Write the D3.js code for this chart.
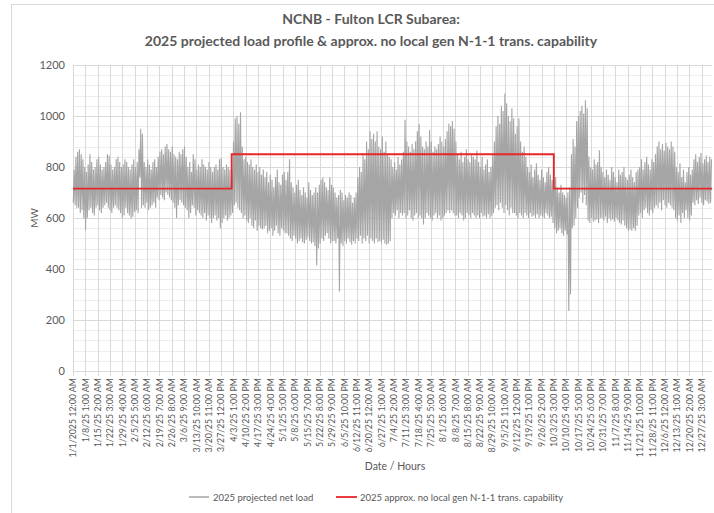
<!DOCTYPE html>
<html>
<head>
<meta charset="utf-8">
<script src="https://cdn.jsdelivr.net/npm/d3@7"></script>
<style>
  body { margin: 0; background: #fff; }
  text { font-family: Lato, "Liberation Sans", sans-serif; fill: #595959; }
</style>
</head>
<body>
<svg id="chart"></svg>
<script>
// daily high / low of the 2025 projected net load (MW), Jan 1 .. Dec 31
var loadHigh = [
  790,840,860,870,850,830,800,780,810,850,820,790,800,830,840,810,790,800,820,850,845,810,790,800,830,840,820,800,810,830,820,
  800,790,810,830,800,820, 870,950,930, 820,800,830,810,790,820,830,800,
  840,860,870,850,880,890,870,860,880,850,840, 830,860,850,
  870,880,840,800,820,780,850,830,790,810,800,
  830,810,800,790,820,800,780,800,810,790,830,835,800,790,810,800,790,
  790,900,990,1000,970,1015, 880,830,840,820,810,830,800,790,810,780,800,770,790,
  760,780,740,770,750,720,760,790,740,730,770,780,750,
  780,830,740,720,700,730,750,710,690,720,700,680,740,710,690,700,720, 700,
  730,750,760,740,720,710,760,730,720,
  700,680,690,710,700,670,690,680,700,690,660,680,700,
  760,800,780,850,830,900,870,940,910,
  930,900,940,880,870,920,860,900,850,840,830,
  800,820,790,840,810,830,860,
  985,900,880,860,890,870,900,940,970,920,880,870,900,880,945,900,860,880,870,890,920,900,880,910,940,970,960,
  980,950,900, 850,830,860,820,840,870,830,820,850,840,830,865,
  820,800,840,790,810,830,780,800,850,
  900,960,1000,970,1040,1020,1088,1050,1000,980,1030,990,
  930,960,990,900,860,880,840,
  800,780,810,760,790,815,770,750,790,760,740,780,800,770,750,
  850,760,720,700,730, 700,690,680,700, 720,850, 910,880,980,
  1000,1020,1040,1010,1062,1030, 840,800,790,830,810,820,866,800,
  780,760,790,770,750,800,780,760,740,790,770,780,800,760,750,770,790,760,740,780,790,
  800,830,790,820,840,810,790,830,820,850,
  880,900,870,890,865,895,880,870,900,880,860,
  800,780,815,760,790,740,780,800,770,790,
  830,850,820,840,855,815,830,845,820,840,830
];
var loadLow = [
  660,650,640,640,620,630,600,553,600,630,640,620,610,640,650,630,620,640,650,660,640,630,620,640,650,640,630,620,600,610,640,
  620,610,598,605,625,630, 620,760,640, 650,640,660,630,640,650,660,640,
  680,670,690,680,670,700,690,680,670,660,640, 600,650,670,
  660,650,640,630,600,620,650,640,610,630,620,
  610,600,620,590,610,600,580,600,610,590,600,560,580,600,610,590,600,
  610,620,650,660,640,630, 620,600,610,590,580,600,570,560,590,550,570,560,555,
  560,570,540,550,560,530,550,570,540,530,560,550,540,
  540,530,520,510,530,520,500,510,520,505,500,515,525,510,500,505,490, 415,
  480,500,520,510,530,540,520,500,510,
  510,500,520,312,500,490,510,500,520,505,495,510,500,
  520,510,530,500,520,510,530,500,520,
  510,500,520,505,510,500,515,500,495,500,510,
  600,620,610,630,600,620,610,
  620,600,610,630,600,590,610,620,600,610,600,575,600,620,610,600,590,610,620,600,610,590,600,610,620,630,620,
  630,620,610, 610,600,620,610,590,600,620,610,600,620,610,600,
  610,600,620,605,610,600,615,600,610,
  620,640,650,630,660,640,620,650,630,610,640,620,
  620,610,600,620,610,600,620,
  610,600,620,605,610,600,615,600,610,605,600,620,610,600,605,
  580,560,540,550,560, 540,530,550,535, 235,300, 560,570,600,
  640,680,700,660,690,650, 590,580,600,585,590,595,580,600,
  600,590,605,580,600,590,595,585,600,590,580,575,590,570,560,550,555,550,560,550,570,
  610,620,600,630,640,620,610,630,620,640,
  650,640,660,630,670,650,640,660,650,640,630,
  600,590,610,580,620,600,630,600,590,610,
  660,650,670,655,680,660,650,670,665,655,660
];

// N-1-1 transmission capability steps (hour of year where each level starts)
var capStartHour = [0, 2175, 6590];
var capValue = [715, 850, 715];

var tickLabels = [
  "1/1/2025 12:00 AM","1/8/25 1:00 AM","1/15/25 2:00 AM","1/22/25 3:00 AM","1/29/25 4:00 AM",
  "2/5/25 5:00 AM","2/12/25 6:00 AM","2/19/25 7:00 AM","2/26/25 8:00 AM","3/6/25 9:00 AM",
  "3/13/25 10:00 AM","3/20/25 11:00 AM","3/27/25 12:00 PM","4/3/25 1:00 PM","4/10/25 2:00 PM",
  "4/17/25 3:00 PM","4/24/25 4:00 PM","5/1/25 5:00 PM","5/8/25 6:00 PM","5/15/25 7:00 PM",
  "5/22/25 8:00 PM","5/29/25 9:00 PM","6/5/25 10:00 PM","6/12/25 11:00 PM","6/20/25 12:00 AM",
  "6/27/25 1:00 AM","7/4/25 2:00 AM","7/11/25 3:00 AM","7/18/25 4:00 AM","7/25/25 5:00 AM",
  "8/1/25 6:00 AM","8/8/25 7:00 AM","8/15/25 8:00 AM","8/22/25 9:00 AM","8/29/25 10:00 AM",
  "9/5/25 11:00 AM","9/12/25 12:00 PM","9/19/25 1:00 PM","9/26/25 2:00 PM","10/3/25 3:00 PM",
  "10/10/25 4:00 PM","10/17/25 5:00 PM","10/24/25 6:00 PM","10/31/25 7:00 PM","11/7/25 8:00 PM",
  "11/14/25 9:00 PM","11/21/25 10:00 PM","11/28/25 11:00 PM","12/6/25 12:00 AM","12/13/25 1:00 AM",
  "12/20/25 2:00 AM","12/27/25 3:00 AM"
];
var labelStep = 169;
var hoursInYear = 8760;
var yTicks = [0, 200, 400, 600, 800, 1000, 1200];

var W = 714, H = 513;
var margin = { top: 65, right: 2, bottom: 142, left: 73 };

var svg = d3.select("#chart").attr("width", W).attr("height", H);

// chart area border (only top/left visible in the frame)
svg.append("rect")
  .attr("x", 11.5).attr("y", 4.5)
  .attr("width", 760).attr("height", 560)
  .attr("fill", "none").attr("stroke", "#d9d9d9");

var x = d3.scaleLinear()
  .domain([0, hoursInYear - 1])
  .range([margin.left, W - margin.right]);
var y = d3.scaleLinear()
  .domain([0, 1200])
  .range([H - margin.bottom, margin.top]);

// minor horizontal gridlines
svg.append("g")
  .selectAll("line")
  .data(d3.range(0, 1201, 40))
  .join("line")
  .attr("x1", x(0)).attr("x2", x(hoursInYear - 1))
  .attr("y1", d => Math.round(y(d)) + 0.5)
  .attr("y2", d => Math.round(y(d)) + 0.5)
  .attr("stroke", "#ededed");

// vertical gridlines at every category label
svg.append("g")
  .selectAll("line")
  .data(tickLabels)
  .join("line")
  .attr("x1", (d, i) => Math.round(x(i * labelStep)) + 0.5)
  .attr("x2", (d, i) => Math.round(x(i * labelStep)) + 0.5)
  .attr("y1", y(1200)).attr("y2", y(0))
  .attr("stroke", "#d9d9d9");

// major horizontal gridlines + y labels
svg.append("g")
  .selectAll("line")
  .data(yTicks)
  .join("line")
  .attr("x1", x(0)).attr("x2", x(hoursInYear - 1))
  .attr("y1", d => Math.round(y(d)) + 0.5)
  .attr("y2", d => Math.round(y(d)) + 0.5)
  .attr("stroke", "#d9d9d9");

svg.append("g")
  .selectAll("text")
  .data(yTicks)
  .join("text")
  .attr("x", 65)
  .attr("y", d => y(d) + 4)
  .attr("text-anchor", "end")
  .style("font-size", "11px")
  .text(d => d);

// x axis tick marks
svg.append("g")
  .selectAll("line")
  .data(tickLabels)
  .join("line")
  .attr("x1", (d, i) => Math.round(x(i * labelStep)) + 0.5)
  .attr("x2", (d, i) => Math.round(x(i * labelStep)) + 0.5)
  .attr("y1", y(0)).attr("y2", y(0) + 5)
  .attr("stroke", "#d9d9d9");

svg.append("g")
  .selectAll("text")
  .data(tickLabels)
  .join("text")
  .attr("transform", (d, i) =>
    "translate(" + (x(i * labelStep) + 3.3) + "," + (y(0) + 7) + ") rotate(-90)")
  .attr("text-anchor", "end")
  .style("font-size", "8.8px")
  .text(d => d);

// load series: daily low (early morning) and high (afternoon)
var loadPoints = [];
loadHigh.forEach(function (hi, d) {
  loadPoints.push([d * 24 + 4, loadLow[d]]);
  loadPoints.push([d * 24 + 16, hi]);
});

svg.append("path")
  .datum(loadPoints)
  .attr("fill", "none")
  .attr("stroke", "#a5a5a5")
  .attr("stroke-width", 1.1)
  .attr("d", d3.line().x(d => x(d[0])).y(d => y(d[1])));

// capability step line
var capPoints = capStartHour.map((h, i) => [h, capValue[i]]);
capPoints.push([hoursInYear - 1, capValue[capValue.length - 1]]);

svg.append("path")
  .datum(capPoints)
  .attr("fill", "none")
  .attr("stroke", "#e8262a")
  .attr("stroke-width", 1.8)
  .attr("d", d3.line().curve(d3.curveStepAfter).x(d => x(d[0])).y(d => y(d[1])));

// titles
svg.append("text")
  .attr("x", 371).attr("y", 24)
  .attr("text-anchor", "middle")
  .style("font-size", "14px").style("font-weight", "bold")
  .text("NCNB - Fulton LCR Subarea:");
svg.append("text")
  .attr("x", 371).attr("y", 46)
  .attr("text-anchor", "middle")
  .style("font-size", "14px").style("font-weight", "bold")
  .text("2025 projected load profile & approx. no local gen N-1-1 trans. capability");

svg.append("text")
  .attr("transform", "translate(38," + y(600) + ") rotate(-90)")
  .attr("text-anchor", "middle")
  .style("font-size", "10px")
  .text("MW");

svg.append("text")
  .attr("x", 395).attr("y", 470)
  .attr("text-anchor", "middle")
  .style("font-size", "10.5px")
  .text("Date / Hours");

// legend
var legend = svg.append("g").attr("transform", "translate(0,497)");
legend.append("line").attr("x1", 189).attr("x2", 209)
  .attr("stroke", "#a5a5a5").attr("stroke-width", 1.5);
legend.append("text").attr("x", 213).attr("y", 3.5)
  .style("font-size", "9.5px").text("2025 projected net load");
legend.append("line").attr("x1", 336).attr("x2", 357)
  .attr("stroke", "#e8262a").attr("stroke-width", 1.8);
legend.append("text").attr("x", 360).attr("y", 3.5)
  .style("font-size", "9.5px").text("2025 approx. no local gen N-1-1 trans. capability");
</script>
</body>
</html>
